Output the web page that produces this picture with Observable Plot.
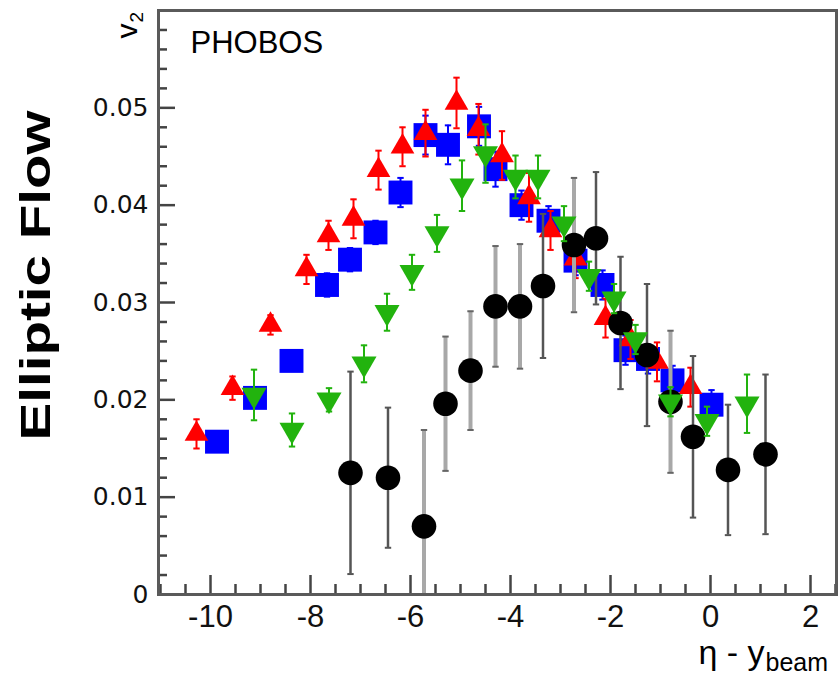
<!DOCTYPE html>
<html>
<head>
<meta charset="utf-8">
<script src="https://cdn.jsdelivr.net/npm/d3@7"></script>
<script src="https://cdn.jsdelivr.net/npm/@observablehq/plot@0.6"></script>
<style>
  html, body { margin: 0; padding: 0; background: #fff; }
  #chart { width: 838px; height: 678px; }
</style>
</head>
<body>
<div id="chart"></div>
<script>
// ---- data ----
const redX   = [-10.28, -9.56, -8.8, -8.08, -7.64, -7.14, -6.64, -6.16, -5.7, -5.08, -4.64, -4.17, -3.63, -3.2, -2.7, -2.1, -1.6, -1.07, -0.4];
const redY   = [0.0165, 0.0212, 0.0277, 0.0334, 0.0369, 0.0386, 0.0436, 0.0460, 0.0474, 0.0505, 0.0478, 0.0451, 0.0408, 0.0374, 0.0345, 0.0284, 0.0262, 0.0239, 0.0213];
const redErr = [0.0015, 0.0012, 0.0010, 0.0015, 0.0015, 0.0020, 0.0020, 0.0020, 0.0024, 0.0026, 0.0026, 0.0025, 0.0025, 0.0020, 0.0020, 0.0020, 0.0020, 0.0020, 0.0020];

const blueX   = [-9.87, -9.11, -8.38, -7.67, -7.21, -6.7, -6.2, -5.7, -5.25, -4.63, -4.3, -3.78, -3.24, -2.7, -2.16, -1.7, -1.25, -0.76, 0.02];
const blueY   = [0.0157, 0.0202, 0.0240, 0.0318, 0.0344, 0.0372, 0.0413, 0.0472, 0.0462, 0.0481, 0.0437, 0.0400, 0.0384, 0.0343, 0.0318, 0.0251, 0.0242, 0.0220, 0.0195];
const blueErr = [0.0010, 0.0010, 0.0010, 0.0012, 0.0012, 0.0012, 0.0015, 0.0020, 0.0020, 0.0020, 0.0018, 0.0015, 0.0015, 0.0015, 0.0015, 0.0015, 0.0015, 0.0015, 0.0015];

const greenX   = [-9.13, -8.37, -7.63, -6.93, -6.47, -5.97, -5.47, -4.97, -4.5, -3.9, -3.45, -2.93, -2.43, -1.93, -1.5, -0.8, -0.07, 0.73];
const greenY   = [0.0205, 0.0169, 0.0200, 0.0237, 0.0290, 0.0331, 0.0371, 0.0420, 0.0453, 0.0429, 0.0429, 0.0381, 0.0327, 0.0304, 0.0262, 0.0198, 0.0178, 0.0196];
const greenErr = [0.0026, 0.0017, 0.0012, 0.0019, 0.0019, 0.0018, 0.0019, 0.0026, 0.0030, 0.0022, 0.0022, 0.0018, 0.0015, 0.0015, 0.0015, 0.0015, 0.0015, 0.0030];

const blackX    = [-7.2, -6.45, -5.73, -5.3, -4.8, -4.3, -3.81, -3.35, -2.73, -2.29, -1.8, -1.27, -0.8, -0.35, 0.35, 1.1];
const blackY    = [0.0125, 0.0120, 0.0070, 0.0196, 0.0230, 0.0296, 0.0296, 0.0317, 0.0359, 0.0366, 0.0279, 0.0246, 0.0198, 0.0162, 0.0128, 0.0144];
const blackErr  = [0.0104, 0.0072, 0.0099, 0.0069, 0.0061, 0.0062, 0.0064, 0.0074, 0.0069, 0.0068, 0.0068, 0.0073, 0.0073, 0.0083, 0.0067, 0.0082];
const blackBand = ["dark", "dark", "light", "light", "light", "light", "light", "dark", "light", "dark", "dark", "dark", "light", "dark", "dark", "dark"];

const xTickLabels = [-10, -8, -6, -4, -2, 0, 2];
const yTickLabels = [0, 0.01, 0.02, 0.03, 0.04, 0.05];
const xMinorTicks = d3.range(-11, 2.51, 0.5).filter(v => !xTickLabels.includes(v));
const yMinorTicks = d3.range(0.002, 0.0599, 0.002).filter(v => !yTickLabels.some(t => Math.abs(t - v) < 1e-9));

const experiment = ["PHOBOS"];
const yTitle = ["Elliptic Flow"];

// ---- rows ----
const rows = (X, Y, E, B) => X.map((x, i) => ({x, y: Y[i], e: E[i], band: B ? B[i] : null}));
const red = rows(redX, redY, redErr);
const blue = rows(blueX, blueY, blueErr);
const green = rows(greenX, greenY, greenErr);
const black = rows(blackX, blackY, blackErr, blackBand);

// ---- symbols ----
const sqrt3 = Math.sqrt(3);
const triangleDown = {
  draw(ctx, size) {
    const y = -Math.sqrt(size / (sqrt3 * 3));
    ctx.moveTo(0, -y * 2);
    ctx.lineTo(-sqrt3 * y, y);
    ctx.lineTo(sqrt3 * y, y);
    ctx.closePath();
  }
};
const hline = {
  draw(ctx, size) {
    const w = Math.sqrt(size);
    ctx.moveTo(-w / 2, 0);
    ctx.lineTo(w / 2, 0);
  }
};

const W = 838, H = 678;
const mL = 158, mR = 2, mT = 10, mB = 84;
const plotW = W - mL - mR, plotH = H - mT - mB;

const RED = "#ff0000", BLUE = "#0000ff", GREEN = "#22b30e";

function errorBars(data, stroke, strokeWidth, capStroke, extra = {}) {
  return [
    Plot.ruleX(data, {x: "x", y1: d => d.y - d.e, y2: d => d.y + d.e, stroke, strokeWidth, clip: true, ...extra}),
    Plot.dot(data, {x: "x", y: d => d.y + d.e, symbol: hline, r: 3.6, fill: "none", stroke: capStroke, strokeWidth: 2, clip: true, ...extra}),
    Plot.dot(data, {x: "x", y: d => d.y - d.e, symbol: hline, r: 3.6, fill: "none", stroke: capStroke, strokeWidth: 2, clip: true, ...extra})
  ];
}

const chart = Plot.plot({
  width: W, height: H,
  marginLeft: mL, marginRight: mR, marginTop: mT, marginBottom: mB,
  x: {domain: [-11.04, 2.52]},
  y: {domain: [0, 0.06]},
  style: {background: "#fff", fontFamily: "'Liberation Sans', Arial, sans-serif", color: "#000"},
  marks: [
    // ticks inside frame
    Plot.tickY(yTickLabels, {y: d => d, insetRight: plotW - 17, stroke: "#444", strokeWidth: 2.5}),
    Plot.tickY(yMinorTicks, {y: d => d, insetRight: plotW - 9, stroke: "#444", strokeWidth: 2.5}),
    Plot.tickX(xTickLabels, {x: d => d, insetTop: plotH - 19, stroke: "#444", strokeWidth: 2.5}),
    Plot.tickX(xMinorTicks, {x: d => d, insetTop: plotH - 10, stroke: "#444", strokeWidth: 2.5}),
    // axis labels
    Plot.axisY(yTickLabels, {anchor: "left", tickSize: 0, tickPadding: 10, label: null,
      tickFormat: d => d === 0 ? "0" : d.toFixed(2), fontSize: 25, fontFamily: "'DejaVu Sans', sans-serif", fill: "#111"}),
    Plot.axisX(xTickLabels, {anchor: "bottom", tickSize: 0, tickPadding: 10, label: null,
      tickFormat: d => String(d), fontSize: 31, fill: "#111"}),

    // blue squares
    ...errorBars(blue, BLUE, 2, BLUE),
    Plot.dot(blue, {x: "x", y: "y", symbol: "square", r: 13.5, fill: BLUE}),
    // red triangles
    ...errorBars(red, RED, 2, RED),
    Plot.dot(red, {x: "x", y: "y", symbol: "triangle", r: 8.8, fill: RED}),
    // black circles
    ...errorBars(black, "#a8a8a8", 4, "#666", {filter: d => d.band === "light"}),
    ...errorBars(black, "#555", 2.5, "#555", {filter: d => d.band === "dark"}),
    Plot.dot(black, {x: "x", y: "y", r: 12.3, fill: "#000"}),
    // green down triangles
    ...errorBars(green, GREEN, 2, GREEN),
    Plot.dot(green, {x: "x", y: "y", symbol: triangleDown, r: 9.3, fill: GREEN, stroke: "none"}),

    // frame
    Plot.frame({stroke: "#5a5a5a", strokeWidth: 3}),

    // texts
    Plot.text(experiment, {text: d => d, frameAnchor: "top-left", lineAnchor: "middle", dx: 32, dy: 33, textAnchor: "start", fontSize: 31, fill: "#000"}),
    Plot.text(yTitle, {text: d => d, frameAnchor: "left", lineAnchor: "middle", dx: -122, dy: 138, rotate: -90, textAnchor: "start", fontSize: 43, fontWeight: "bold", fill: "#000"}),
    Plot.text(["v"], {text: d => d, frameAnchor: "top-left", lineAnchor: "middle", dx: -31, dy: 28, rotate: -90, fontSize: 30, fill: "#000"}),
    Plot.text(["2"], {text: d => d, frameAnchor: "top-left", lineAnchor: "middle", dx: -22, dy: 12, rotate: -90, fontSize: 19, fill: "#000"}),
    Plot.text(["η - y"], {text: d => d, frameAnchor: "bottom-right", lineAnchor: "middle", dx: -72, dy: 59, textAnchor: "end", fontSize: 34, fill: "#000"}),
    Plot.text(["beam"], {text: d => d, frameAnchor: "bottom-right", lineAnchor: "middle", dx: -71, dy: 68, textAnchor: "start", fontSize: 25, fill: "#000"})
  ]
});

document.getElementById("chart").appendChild(chart);

// stretch the tall rotated axis title to the length seen in the reference
d3.select(chart).selectAll("text").filter(function() { return this.textContent === "Elliptic Flow"; })
  .attr("textLength", 330).attr("lengthAdjust", "spacingAndGlyphs");
</script>
</body>
</html>
